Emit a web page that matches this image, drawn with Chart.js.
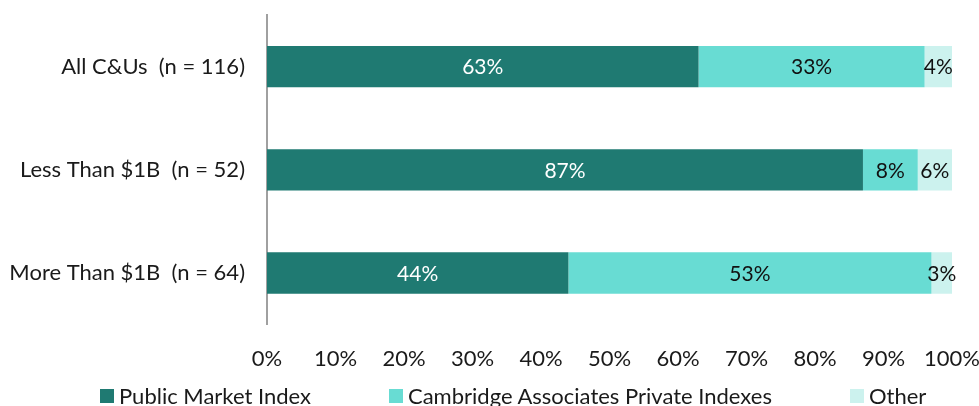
<!DOCTYPE html>
<html lang="en">
<head>
    <meta charset="UTF-8">
    <title>Benchmark Index Usage</title>
    <script src="https://cdn.jsdelivr.net/npm/chart.js"></script>
    <style>
        html, body { margin: 0; padding: 0; background: #fff; }
        #wrap { position: relative; width: 979px; height: 406px; }
        #legend {
            position: absolute; left: 100px; top: 382px;
            display: flex; align-items: center;
            font-family: Lato, sans-serif; font-size: 22px; color: #1a1a1a;
        }
        #legend .item { display: flex; align-items: center; margin-right: 78px; white-space: nowrap; }
        #legend .swatch { width: 14px; height: 14px; margin-right: 5px; }
    </style>
</head>
<body>
    <div id="wrap">
        <canvas id="chart" width="979" height="406"></canvas>
        <div id="legend"></div>
    </div>

    <script>
        // Share of institutions by benchmark type
        const categories = ['All C&Us  (n = 116)', 'Less Than $1B  (n = 52)', 'More Than $1B  (n = 64)'];
        const seriesNames = ['Public Market Index', 'Cambridge Associates Private Indexes', 'Other'];
        const publicMarket = [63, 87, 44];
        const privateIndexes = [33, 8, 53];
        const other = [4, 6, 3];
        const xTicks = [0, 10, 20, 30, 40, 50, 60, 70, 80, 90, 100];

        const colors = ['#1f7a72', '#68dcd3', '#ccf2ee'];
        const labelColors = ['#ffffff', '#111111', '#111111'];
        const family = 'Lato, sans-serif';

        // Percent labels centred on each segment
        const barLabels = {
            id: 'barLabels',
            afterDatasetsDraw(chart) {
                const ctx = chart.ctx;
                ctx.save();
                ctx.font = '21px ' + family;
                ctx.textAlign = 'center';
                ctx.textBaseline = 'middle';
                chart.data.datasets.forEach((ds, i) => {
                    const meta = chart.getDatasetMeta(i);
                    meta.data.forEach((bar, j) => {
                        const p = bar.getProps(['x', 'y', 'base'], true);
                        const right = Math.min(p.x, chart.chartArea.right);
                        ctx.fillStyle = labelColors[i];
                        ctx.fillText(ds.data[j] + '%', (right + p.base) / 2, p.y + 1);
                    });
                });
                ctx.restore();
            }
        };

        // keep the plot edges where the layout padding puts them
        const noEdgePadding = (axis) => {
            axis.paddingLeft = 0;
            axis.paddingRight = 0;
            axis.paddingTop = 0;
            axis.paddingBottom = 0;
        };

        const chart = new Chart(document.getElementById('chart'), {
            type: 'bar',
            data: {
                labels: categories,
                datasets: [publicMarket, privateIndexes, other].map((d, i) => ({
                    label: seriesNames[i],
                    data: d,
                    backgroundColor: colors[i],
                    borderWidth: 0,
                    barPercentage: 0.4,
                    categoryPercentage: 1
                }))
            },
            options: {
                indexAxis: 'y',
                responsive: false,
                animation: false,
                layout: { padding: { top: 15, left: 0, right: 27, bottom: 21 } },
                plugins: {
                    legend: { display: false },
                    tooltip: { enabled: false }
                },
                scales: {
                    x: {
                        stacked: true,
                        min: 0,
                        max: 100,
                        grid: { display: false },
                        border: { display: false },
                        afterBuildTicks: (axis) => { axis.ticks = xTicks.map(v => ({ value: v })); },
                        afterFit: noEdgePadding,
                        ticks: {
                            font: { family: family, size: 22 },
                            color: '#1a1a1a',
                            padding: 13,
                            maxRotation: 0,
                            callback: (v) => v + '%'
                        }
                    },
                    y: {
                        stacked: true,
                        grid: { display: false },
                        border: { display: true, color: '#a0a0a0', width: 2 },
                        afterFit: (axis) => { axis.width = 267; noEdgePadding(axis); },
                        ticks: { font: { family: family, size: 22 }, color: '#1a1a1a', padding: 14 }
                    }
                }
            },
            plugins: [barLabels]
        });

        // Legend built from the chart's datasets
        const legend = document.getElementById('legend');
        chart.data.datasets.forEach(ds => {
            const item = document.createElement('div');
            item.className = 'item';
            const sw = document.createElement('span');
            sw.className = 'swatch';
            sw.style.background = ds.backgroundColor;
            item.appendChild(sw);
            item.appendChild(document.createTextNode(ds.label));
            legend.appendChild(item);
        });
    </script>
</body>
</html>
